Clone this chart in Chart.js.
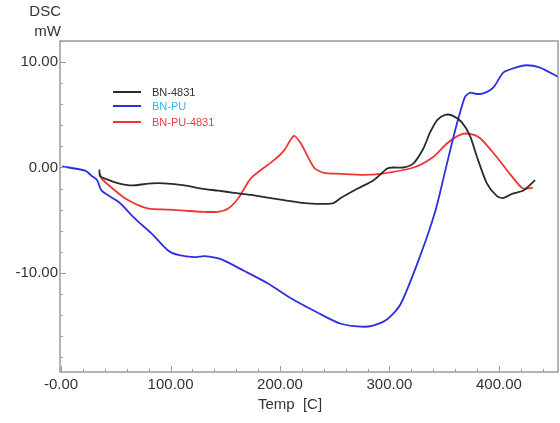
<!DOCTYPE html>
<html>
<head>
<meta charset="utf-8">
<script src="https://cdn.jsdelivr.net/npm/chart.js@4/dist/chart.umd.min.js"></script>
<style>
  html, body { margin: 0; padding: 0; background: #fff; }
  canvas { display: block; }
</style>
</head>
<body>
<canvas id="dscChart" width="560" height="423"></canvas>
<script>
// BN-4831
const bn4831Temp = [35, 35.5, 40, 52.7, 64.5, 82.7, 94.5, 112.7, 128, 143.6, 158, 173.6, 203.6, 225.5, 248, 255.5, 271, 285.5, 298, 303.6, 312.7, 322, 331, 337, 343.6, 351, 358, 366, 373.6, 380, 389, 398, 403.6, 412, 422, 428, 433];
const bn4831Val = [-0.2, -0.8, -1.05, -1.5, -1.7, -1.5, -1.5, -1.7, -2.0, -2.2, -2.4, -2.6, -3.1, -3.4, -3.4, -2.9, -2.0, -1.2, -0.1, 0, 0, 0.4, 1.8, 3.3, 4.5, 5.0, 4.9, 4.3, 3.0, 1.0, -1.5, -2.7, -2.9, -2.5, -2.2, -1.7, -1.2];

// BN-PU
const bnPuTemp = [1, 22, 28, 33, 37, 53, 67, 83, 98, 107, 122, 131, 146, 167, 189, 210, 235, 255, 274, 285, 298, 310, 328, 342, 351, 360, 369, 374, 378, 385, 395, 404, 416, 425, 437, 454];
const bnPuVal = [0.1, -0.3, -0.8, -1.2, -2.2, -3.3, -4.8, -6.3, -7.9, -8.3, -8.5, -8.4, -8.7, -9.8, -11.0, -12.4, -13.8, -14.8, -15.1, -15.0, -14.4, -13.0, -8.4, -4.1, -0.3, 3.5, 6.7, 7.1, 7.0, 7.0, 7.6, 9.0, 9.5, 9.7, 9.5, 8.6];

// BN-PU-4831
const bnPu4831Temp = [35.5, 37, 46, 58, 71, 80, 98, 112.7, 128, 143.6, 152.7, 162, 173.6, 194.5, 203.6, 212.7, 219, 231, 240, 255.5, 276, 292, 322, 340, 352.7, 364.5, 373.6, 382.7, 398, 410, 422, 431];
const bnPu4831Val = [-0.6, -1.05, -1.9, -2.9, -3.6, -3.9, -4.0, -4.1, -4.2, -4.2, -3.9, -2.9, -1.0, 0.7, 1.6, 3.0, 2.3, 0, -0.5, -0.6, -0.7, -0.6, 0, 1.0, 2.3, 3.1, 3.2, 2.8, 1.0, -0.6, -2.0, -1.9];

const seriesNames = ["BN-4831", "BN-PU", "BN-PU-4831"];
const xTickLabels = { 0: "-0.00", 100: "100.00", 200: "200.00", 300: "300.00", 400: "400.00" };
const yTickLabels = { 10: "10.00", 0: "0.00", "-10": "-10.00" };

const lineColors = ["#2b2b2b", "#2f2fe0", "#f03535"];
const legendTextColors = ["#333333", "#3cb4e6", "#f03c3c"];

function pts(xs, ys) {
  return xs.map((x, i) => ({ x: x, y: ys[i] }));
}

const framePlugin = {
  id: "frame",
  afterDraw(chart) {
    const ctx = chart.ctx;
    const a = chart.chartArea;
    const xs = chart.scales.x;
    const ys = chart.scales.y;
    ctx.save();
    ctx.strokeStyle = "#9a9a9a";
    ctx.lineWidth = 1.5;
    ctx.strokeRect(a.left, a.top, a.right - a.left, a.bottom - a.top);

    // inward ticks, longer at labelled values
    ctx.lineWidth = 1;
    ctx.beginPath();
    xs.ticks.forEach((t) => {
      const px = Math.round(xs.getPixelForValue(t.value)) + 0.5;
      const len = t.label ? 6 : 3;
      ctx.moveTo(px, a.bottom);
      ctx.lineTo(px, a.bottom - len);
    });
    ys.ticks.forEach((t) => {
      const py = Math.round(ys.getPixelForValue(t.value)) + 0.5;
      const len = t.label ? 6 : 3;
      ctx.moveTo(a.left, py);
      ctx.lineTo(a.left + len, py);
    });
    ctx.stroke();

    // axis captions
    ctx.fillStyle = "#333";
    ctx.font = "15px 'Liberation Sans', Arial, sans-serif";
    ctx.textAlign = "right";
    ctx.textBaseline = "middle";
    ctx.fillText("DSC", 61, 12);
    ctx.fillText("mW", 61, 32);
    ctx.textAlign = "center";
    ctx.fillText("Temp  [C]", 290, 405);

    // legend
    ctx.font = "11px 'Liberation Sans', Arial, sans-serif";
    ctx.textAlign = "left";
    const ly = [92, 106, 122];
    seriesNames.forEach((name, i) => {
      ctx.strokeStyle = lineColors[i];
      ctx.lineWidth = 2;
      ctx.beginPath();
      ctx.moveTo(113, ly[i]);
      ctx.lineTo(141, ly[i]);
      ctx.stroke();
      ctx.fillStyle = legendTextColors[i];
      ctx.fillText(name, 152, ly[i] + 1);
    });
    ctx.restore();
  },
};

new Chart(document.getElementById("dscChart"), {
  type: "scatter",
  data: {
    datasets: [
      { label: seriesNames[0], data: pts(bn4831Temp, bn4831Val), borderColor: lineColors[0] },
      { label: seriesNames[1], data: pts(bnPuTemp, bnPuVal), borderColor: lineColors[1] },
      { label: seriesNames[2], data: pts(bnPu4831Temp, bnPu4831Val), borderColor: lineColors[2] },
    ],
  },
  options: {
    responsive: false,
    animation: false,
    layout: { padding: { left: 0, top: 41, right: 2, bottom: 0 } },
    elements: {
      point: { radius: 0 },
      line: { borderWidth: 1.8, tension: 0.25, fill: false },
    },
    datasets: { scatter: { showLine: true } },
    plugins: { legend: { display: false }, tooltip: { enabled: false } },
    scales: {
      x: {
        type: "linear",
        min: -1,
        max: 454,
        afterFit(scale) { scale.height = 51; },
        border: { display: false },
        grid: { display: false, drawTicks: false, tickLength: 0 },
        ticks: {
          stepSize: 20,
          includeBounds: false,
          autoSkip: false,
          maxRotation: 0,
          padding: 4,
          color: "#333",
          font: { size: 15, family: "'Liberation Sans', Arial, sans-serif" },
          callback: (v) => xTickLabels[Math.round(v)] || "",
        },
      },
      y: {
        min: -19.4,
        max: 12,
        afterFit(scale) { scale.width = 60; },
        border: { display: false },
        grid: { display: false, drawTicks: false, tickLength: 0 },
        ticks: {
          stepSize: 2,
          includeBounds: false,
          autoSkip: false,
          padding: 2,
          color: "#333",
          font: { size: 15, family: "'Liberation Sans', Arial, sans-serif" },
          callback: (v) => yTickLabels[Math.round(v)] || "",
        },
      },
    },
  },
  plugins: [framePlugin],
});
</script>
</body>
</html>
